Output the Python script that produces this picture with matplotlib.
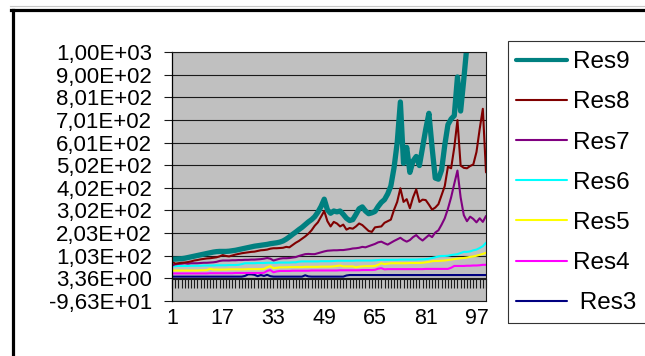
import numpy as np
import matplotlib
matplotlib.use("Agg")
import matplotlib.pyplot as plt
from matplotlib.lines import Line2D
from matplotlib.patches import Rectangle
from matplotlib.ticker import FuncFormatter

plt.rcParams["font.family"] = ["Liberation Sans", "DejaVu Sans"]

W, H = 645, 356  # tamaño de salida en px (dpi=100)

# --- datos: 100 pasos, series Res3..Res9 ---
paso = np.arange(1, 101)

res9 = [88, 88, 89, 90, 92, 95, 98, 101, 104, 107,
        110, 113, 116, 119, 121, 122, 122, 122, 123, 125,
        127, 130, 133, 136, 139, 142, 145, 147, 149, 151,
        153, 156, 158, 160, 163, 168, 176, 186, 197, 207,
        218, 228, 240, 252, 262, 275, 295, 320, 352, 305,
        290, 300, 296, 300, 285, 268, 258, 262, 285, 310,
        318, 300, 288, 292, 298, 320, 338, 350, 375, 410,
        490, 600, 780, 510, 580, 470, 520, 540, 500, 580,
        660, 730, 580, 445, 440, 480, 590, 680, 705, 720,
        890, 740, 880, 1030, 1120, 1180, 1250, 1300, 1350, 1400]

res8 = [78, 68, 70, 72, 73, 75, 78, 82, 84, 87,
        89, 91, 92, 94, 96, 100, 106, 102, 100, 104,
        108, 111, 114, 116, 118, 120, 121, 124, 127, 128,
        130, 134, 136, 136, 137, 138, 142, 140, 150, 160,
        168, 178, 188, 200, 215, 235, 250, 275, 300, 255,
        232, 252, 245, 232, 240, 218, 225, 222, 232, 245,
        238, 225, 212, 208, 228, 230, 232, 248, 255, 262,
        305, 340, 400, 340, 352, 312, 360, 395, 340, 350,
        348, 328, 306, 315, 330, 370, 410, 495, 488, 580,
        700, 500, 490, 488, 498, 505, 560, 660, 750, 470]

res7 = [60, 65, 67, 68, 70, 68, 70, 70, 70, 71,
        72, 72, 73, 74, 76, 80, 82, 82, 82, 83,
        83, 84, 84, 85, 85, 86, 86, 87, 88, 90,
        93, 90, 82, 86, 90, 92, 92, 93, 95, 97,
        102, 106, 110, 111, 110, 110, 114, 118, 122, 125,
        126, 127, 127, 128, 128, 130, 132, 135, 136, 138,
        142, 140, 145, 150, 155, 162, 165, 158, 152, 160,
        168, 175, 182, 172, 165, 172, 185, 194, 180, 170,
        182, 194, 185, 205, 215, 240, 268, 310, 360, 420,
        478, 360, 282, 255, 275, 265, 250, 268, 252, 278]

res6 = [57, 57, 58, 58, 58, 58, 59, 59, 59, 59,
        60, 60, 60, 60, 61, 61, 61, 61, 62, 62,
        62, 63, 66, 70, 70, 70, 70, 71, 71, 71,
        72, 72, 72, 72, 73, 73, 73, 73, 74, 74,
        77, 78, 78, 78, 78, 78, 78, 79, 79, 79,
        79, 80, 81, 81, 81, 81, 81, 81, 82, 82,
        82, 82, 82, 82, 83, 84, 85, 85, 85, 85,
        85, 85, 86, 86, 86, 86, 86, 86, 87, 87,
        88, 90, 93, 96, 100, 102, 102, 103, 106, 108,
        110, 115, 120, 120, 122, 127, 130, 137, 145, 160]

res5 = [38, 38, 38, 38, 38, 38, 38, 38, 38, 39,
        39, 40, 45, 42, 42, 42, 42, 42, 43, 43,
        43, 43, 43, 43, 44, 44, 44, 44, 44, 45,
        52, 57, 48, 50, 52, 52, 52, 53, 53, 53,
        53, 53, 54, 54, 54, 54, 54, 55, 55, 55,
        55, 56, 58, 60, 56, 56, 56, 56, 52, 55,
        56, 57, 57, 57, 58, 63, 70, 66, 68, 70,
        70, 70, 70, 70, 70, 71, 71, 71, 71, 72,
        74, 76, 79, 80, 80, 81, 82, 84, 86, 88,
        90, 92, 93, 95, 98, 100, 103, 107, 111, 116]

res4 = [25, 25, 25, 25, 25, 25, 25, 25, 25, 25,
        25, 25, 26, 26, 26, 26, 26, 26, 26, 26,
        27, 27, 27, 27, 27, 27, 27, 27, 27, 28,
        36, 40, 30, 34, 36, 36, 36, 36, 37, 37,
        37, 37, 37, 37, 38, 38, 38, 38, 38, 38,
        38, 38, 38, 39, 39, 39, 39, 39, 39, 39,
        40, 40, 40, 40, 41, 46, 48, 43, 44, 44,
        44, 44, 44, 44, 44, 44, 44, 44, 44, 44,
        45, 45, 45, 45, 45, 45, 45, 45, 50, 58,
        58, 58, 58, 59, 59, 60, 60, 61, 63, 63]

res3 = [11, 11, 11, 11, 11, 11, 11, 11, 11, 11,
        11, 11, 11, 11, 11, 11, 11, 11, 11, 11,
        11, 11, 11, 14, 21, 21, 19, 13, 18, 14,
        19, 13, 11, 11, 11, 11, 11, 11, 11, 11,
        11, 11, 17, 12, 11, 11, 11, 11, 11, 11,
        11, 11, 11, 11, 11, 16, 18, 18, 18, 18,
        18, 18, 18, 18, 18, 18, 18, 18, 18, 18,
        18, 18, 18, 18, 18, 18, 18, 18, 18, 18,
        18, 18, 18, 18, 18, 18, 18, 18, 18, 18,
        18, 18, 18, 18, 18, 18, 18, 18, 18, 18]

# nombre, valores, color, grosor en el gráfico, grosor en la leyenda
SERIES = [
    (" Res3", res3, "#000080", 1.5, 1.5),
    ("Res4", res4, "#ff00ff", 1.5, 1.5),
    ("Res5", res5, "#ffff00", 1.5, 1.5),
    ("Res6", res6, "#00ffff", 1.5, 1.5),
    ("Res7", res7, "#800080", 1.5, 1.5),
    ("Res8", res8, "#800000", 1.5, 1.5),
    ("Res9", res9, "#008080", 3.8, 3.0),
]

x_labels = [1, 17, 33, 49, 65, 81, 97]
y_min, y_max = -96.3, 1000.0
y_ticks = np.linspace(y_min, y_max, 12)


def fx(px):
    return px / W


def fy(py):
    return 1 - py / H


def sci_coma(v, _pos):
    return f"{v:.2E}".replace(".", ",")


fig = plt.figure(figsize=(W / 100, H / 100), dpi=100)
fig.patch.set_facecolor("white")

ax = fig.add_axes([fx(172), fy(301), fx(486) - fx(172), fy(52) - fy(301)])
ax.set_facecolor("#c0c0c0")
ax.set_xlim(paso[0], paso[-1])
ax.set_ylim(y_min, y_max)

for name, vals, color, lw, _ in SERIES:
    ax.plot(paso, vals, color=color, lw=lw, solid_joinstyle="round",
            solid_capstyle="round")

# eje de valores
ax.set_yticks(y_ticks)
ax.yaxis.set_major_formatter(FuncFormatter(sci_coma))
ax.yaxis.grid(True, color="#1a1a1a", lw=0.8)
ax.xaxis.grid(False)
ax.set_axisbelow(True)
ax.tick_params(axis="y", direction="out", length=5.8, width=0.8, pad=8.5,
               labelsize=16, color="#1a1a1a")

# eje de categorías cruzando en 0, marcas en cada paso
ax.spines["bottom"].set_position(("data", 0))
ax.spines["bottom"].set_color("#1a1a1a")
ax.spines["bottom"].set_linewidth(0.8)
ax.set_xticks(paso)
ax.tick_params(axis="x", direction="out", length=6.4, width=0.8,
               color="#1a1a1a", labelbottom=False)
for side in ("top", "right"):
    ax.spines[side].set_color("#1a1a1a")
    ax.spines[side].set_linewidth(0.8)
ax.spines["left"].set_color("black")
ax.spines["left"].set_linewidth(0.9)

# etiquetas de categoría abajo del área de trazado
sec = ax.secondary_xaxis(0)
sec.set_xticks(x_labels)
sec.tick_params(length=0, pad=5, labelsize=15.5)
sec.spines["bottom"].set_color("#1a1a1a")
sec.spines["bottom"].set_linewidth(0.8)

# marco exterior del gráfico (recortado a la derecha y abajo)
fig.add_artist(Line2D([fx(10), 1], [fy(6), fy(6)], color="#c8c8c8", lw=0.8,
                      transform=fig.transFigure))
fig.add_artist(Line2D([fx(12.5), fx(12.5)], [0, fy(10)], color="black",
                      lw=2.3, transform=fig.transFigure))
fig.add_artist(Line2D([fx(11.4), 1], [fy(10), fy(10)], color="black",
                      lw=2.3, transform=fig.transFigure))

# leyenda con su propio recuadro
fig.add_artist(Rectangle((fx(508), fy(323)), fx(700) - fx(508),
                         fy(41) - fy(323), fill=False, edgecolor="#333333",
                         lw=0.8, transform=fig.transFigure))
handles = [Line2D([], [], color=c, lw=lwl, solid_capstyle="round")
           for _, _, c, _, lwl in SERIES[::-1]]
labels = [n for n, *_ in SERIES[::-1]]
fig.legend(handles, labels, loc="upper left",
           bbox_to_anchor=(fx(516), fy(51)), frameon=False, fontsize=17.5,
           handlelength=2.1, handletextpad=0.25, labelspacing=0.75,
           borderpad=0, borderaxespad=0)

fig.savefig("out.png", dpi=100)
plt.close(fig)
